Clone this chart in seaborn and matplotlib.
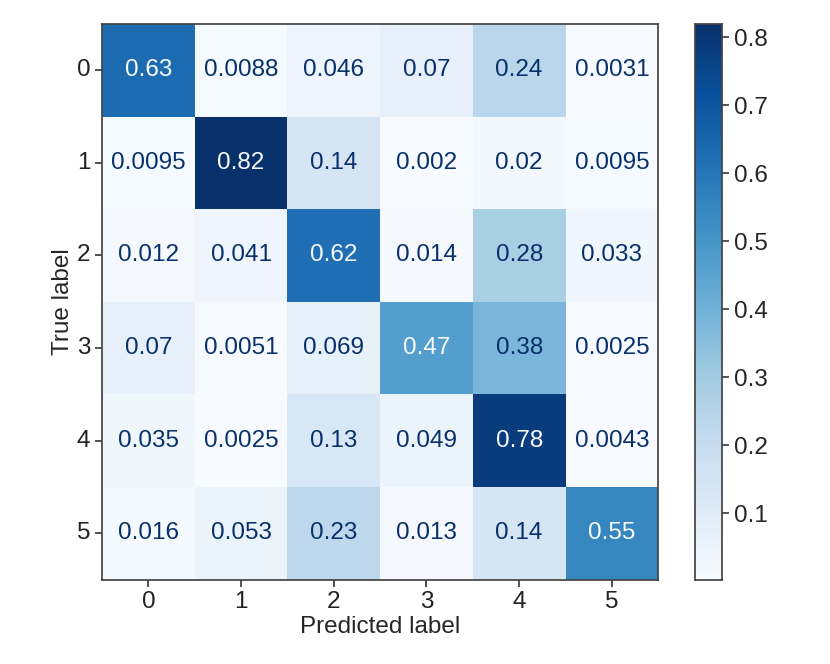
import numpy as np
import pandas as pd
import seaborn as sns
import matplotlib.pyplot as plt

labels = ["0", "1", "2", "3", "4", "5"]

row_0 = [0.63, 0.0088, 0.046, 0.07, 0.24, 0.0031]
row_1 = [0.0095, 0.82, 0.14, 0.002, 0.02, 0.0095]
row_2 = [0.012, 0.041, 0.62, 0.014, 0.28, 0.033]
row_3 = [0.07, 0.0051, 0.069, 0.47, 0.38, 0.0025]
row_4 = [0.035, 0.0025, 0.13, 0.049, 0.78, 0.0043]
row_5 = [0.016, 0.053, 0.23, 0.013, 0.14, 0.55]

cm = pd.DataFrame([row_0, row_1, row_2, row_3, row_4, row_5],
                  index=labels, columns=labels)

FS = 17.5

sns.set_theme(style="ticks")
plt.rcParams['font.family'] = ['Liberation Sans', 'DejaVu Sans']
plt.rcParams['font.size'] = FS

fig = plt.figure(figsize=(8.3, 6.64), dpi=100)
ax = fig.add_axes([0.123, 0.127, 0.670, 0.837])
cax = fig.add_axes([0.837, 0.127, 0.033, 0.837])

cmap = plt.get_cmap("Blues")
sns.heatmap(cm, ax=ax, cbar_ax=cax, cmap=cmap, annot=False,
            vmin=cm.values.min(), vmax=cm.values.max())

# text colour like sklearn's ConfusionMatrixDisplay
thresh = (cm.values.max() + cm.values.min()) / 2.0
for i in range(cm.shape[0]):
    for j in range(cm.shape[1]):
        v = cm.values[i, j]
        color = cmap(0.0) if v >= thresh else cmap(1.0)
        ax.text(j + 0.5, i + 0.5, format(v, ".2g"), ha="center", va="center",
                color=color, fontsize=FS)

for sp in ax.spines.values():
    sp.set_visible(True)
    sp.set_color("#444444")
for sp in cax.spines.values():
    sp.set_visible(True)
    sp.set_color("#444444")

ax.set_xlabel("Predicted label", fontsize=FS, labelpad=2)
ax.set_ylabel("True label", fontsize=FS, labelpad=2)
ax.tick_params(axis="both", labelsize=FS, length=5, width=1.1, colors="#222222")
ax.set_yticklabels(labels, rotation=0)
ax.set_xticklabels(labels, rotation=0)
cax.set_yticks([0.1, 0.2, 0.3, 0.4, 0.5, 0.6, 0.7, 0.8])
cax.tick_params(labelsize=FS, length=5, width=1.1)

fig.savefig("out.png", dpi=100)
